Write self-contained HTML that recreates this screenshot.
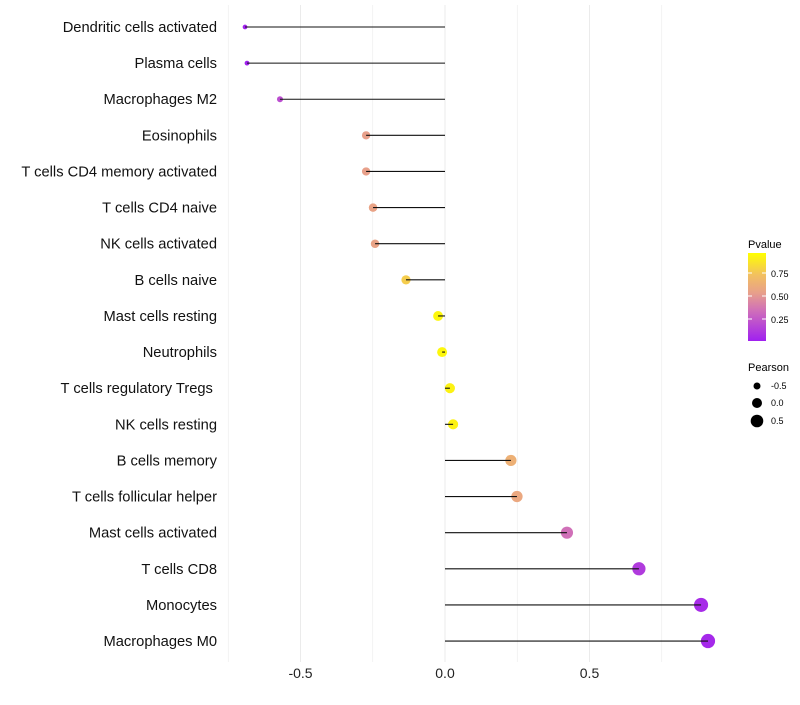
<!DOCTYPE html>
<html><head><meta charset="utf-8"><style>
body{margin:0;background:#fff;font-family:"Liberation Sans",sans-serif}
</style></head><body>
<svg id="chart" width="800" height="700" xmlns="http://www.w3.org/2000/svg">
<defs><linearGradient id="pg" x1="0" y1="1" x2="0" y2="0">
<stop offset="0" stop-color="#a020f0"/><stop offset="0.35" stop-color="#d070b8"/><stop offset="0.55" stop-color="#e8a08a"/><stop offset="0.75" stop-color="#f2c060"/><stop offset="1" stop-color="#ffff00"/></linearGradient></defs>
<g id="grid"></g><g id="marks"></g><g id="labels"></g>
<g font-size="10">
<text x="748" y="248" font-size="11" fill="#000">Pvalue</text>
<rect x="748" y="253" width="18" height="88" fill="url(#pg)"/>
<line x1="748" y1="273" x2="752" y2="273" stroke="#fff"/><line x1="762" y1="273" x2="766" y2="273" stroke="#fff"/>
<line x1="748" y1="296" x2="752" y2="296" stroke="#fff"/><line x1="762" y1="296" x2="766" y2="296" stroke="#fff"/>
<line x1="748" y1="319" x2="752" y2="319" stroke="#fff"/><line x1="762" y1="319" x2="766" y2="319" stroke="#fff"/>
<text x="771" y="277" font-size="9">0.75</text><text x="771" y="300" font-size="9">0.50</text><text x="771" y="323" font-size="9">0.25</text>
<text x="748" y="371" font-size="11">Pearson</text>
<circle cx="757" cy="386" r="3.5"/><text x="771" y="389" font-size="9">-0.5</text>
<circle cx="757" cy="403" r="5"/><text x="771" y="406" font-size="9">0.0</text>
<circle cx="757" cy="421" r="6.3"/><text x="771" y="424" font-size="9">0.5</text>
</g>
</svg>
<script>
const categories=["Dendritic cells activated","Plasma cells","Macrophages M2","Eosinophils","T cells CD4 memory activated","T cells CD4 naive","NK cells activated","B cells naive","Mast cells resting","Neutrophils","T cells regulatory  Tregs\u00a0","NK cells resting","B cells memory","T cells follicular helper","Mast cells activated","T cells CD8","Monocytes","Macrophages M0"];
const pearson=[-0.692,-0.685,-0.571,-0.273,-0.273,-0.249,-0.242,-0.135,-0.024,-0.01,0.017,0.028,0.228,0.249,0.422,0.671,0.886,0.91];
const pvalues=[0.01,0.01,0.2,0.55,0.55,0.57,0.57,0.8,0.97,0.97,0.95,0.95,0.65,0.6,0.35,0.12,0.05,0.04];
const xTicks=[-0.5,0,0.5];
const xTickLabels=["-0.5","0.0","0.5"];
const NS="http://www.w3.org/2000/svg";
const xs=v=>445+v*289;
const ys=i=>27+i*36.12;
const rs=v=>Math.sqrt(Math.max(2,25+28*v));
function hex(c){return [1,3,5].map(i=>parseInt(c.substr(i,2),16));}
const stops=[[0,hex("#a020f0")],[0.35,hex("#d070b8")],[0.55,hex("#e8a08a")],[0.75,hex("#f2c060")],[1,hex("#ffff00")]];
function col(p){let k=0;while(k<stops.length-2&&p>stops[k+1][0])k++;const a=stops[k],b=stops[k+1];
const t=Math.min(1,Math.max(0,(p-a[0])/(b[0]-a[0])));return "rgb("+a[1].map((v,j)=>Math.round(v+(b[1][j]-v)*t)).join(",")+")";}
function mk(tag,attrs,parent){const e=document.createElementNS(NS,tag);for(const k in attrs)e.setAttribute(k,attrs[k]);parent.appendChild(e);return e;}
const grid=document.getElementById("grid"),marks=document.getElementById("marks"),labels=document.getElementById("labels");
[-0.75,-0.5,-0.25,0,0.25,0.5,0.75].forEach(v=>{
 const l=mk("line",{x1:xs(v),x2:xs(v),y1:5,y2:662,stroke:"#ebebeb","stroke-width":v*4%2===0?1:0.6},grid);
 
 
});
xTicks.forEach((v,i)=>{
 const t=mk("text",{x:xs(v),y:678,"text-anchor":"middle","font-size":14,fill:"#222"},labels);t.textContent=xTickLabels[i];
 
 
});
categories.forEach((c,i)=>{
 const t=mk("text",{x:217,y:ys(i)+5,"text-anchor":"end","font-size":14.7,fill:"#111"},labels);t.textContent=c;
 
 
 const d=mk("circle",{cx:xs(pearson[i]),cy:ys(i),r:rs(pearson[i]),fill:col(pvalues[i])},marks);
 
 
});
categories.forEach((c,i)=>{
 const s=mk("line",{x1:xs(0),x2:xs(pearson[i]),y1:ys(i),y2:ys(i),stroke:"#111","stroke-width":1.1},marks);
 
 
});
</script>
</body></html>
